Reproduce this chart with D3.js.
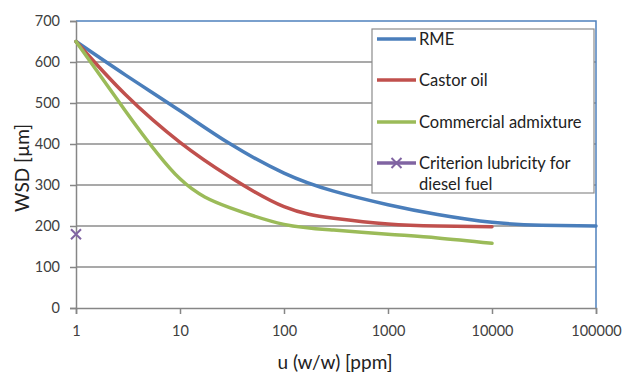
<!DOCTYPE html>
<html><head><meta charset="utf-8">
<script src="https://cdn.jsdelivr.net/npm/d3@7"></script>
<style>html,body{margin:0;padding:0;background:#fff;}svg{display:block;}</style>
</head><body>
<svg id="c" width="624" height="372"></svg>
<script>
const xTicks = [1, 10, 100, 1000, 10000, 100000];
const yTicks = [0, 100, 200, 300, 400, 500, 600, 700];
const rmeX = [1, 3, 10, 30, 100, 300, 1000, 3000, 10000, 30000, 100000];
const rmeY = [650, 568, 481, 401, 329, 285, 252, 228, 209, 202, 200];
const castorX = [1, 3, 10, 30, 100, 300, 1000, 3000, 10000];
const castorY = [650, 520, 404, 320, 247, 219, 205, 200, 198];
const commX = [1, 3, 10, 30, 100, 300, 1000, 3000, 10000];
const commY = [650, 480, 315, 245, 204, 190, 180, 171, 158];
const critX = [1];
const critY = [180];
const seriesNames = ["RME", "Castor oil", "Commercial admixture", "Criterion lubricity for diesel fuel"];
const colors = ["#4a7ebb", "#c0504d", "#9bbb59", "#8064a2"];

const svg = d3.select("#c");
const L = 76, R = 596, T = 21, B = 308;
const x = d3.scaleLog().domain([1, 100000]).range([L, R]);
const y = d3.scaleLinear().domain([0, 700]).range([B, T]);
const font = "Lato, 'Liberation Sans', sans-serif";

// gridlines
svg.append("g").selectAll("line").data(yTicks.filter(d => d > 0 && d < 700)).join("line")
  .attr("x1", L).attr("x2", R).attr("y1", d => y(d)).attr("y2", d => y(d))
  .attr("stroke", "#8c8c8c").attr("stroke-width", 1.3);

// plot border top/right
svg.append("path").attr("d", `M${L},${y(700)}H${R}V${B}`).attr("fill", "none")
  .attr("stroke", "#4f81bd").attr("stroke-width", 1.5);

// axes
const yAxis = d3.axisLeft(y).tickValues(yTicks).tickSize(6).tickPadding(10);
const gy = svg.append("g").attr("transform", `translate(${L},0)`).call(yAxis);
gy.select(".domain").attr("stroke", "#868686").attr("stroke-width", 1.5);
gy.selectAll(".tick line").attr("stroke", "#868686").attr("stroke-width", 1.5);
gy.selectAll(".tick text").attr("font-family", font).attr("font-size", 14.5).attr("fill", "#404040");

const xAxis = d3.axisBottom(x).tickValues(xTicks).tickFormat(d3.format("d")).tickSize(6).tickPadding(12);
const gx = svg.append("g").attr("transform", `translate(0,${B})`).call(xAxis);
gx.select(".domain").attr("stroke", "#868686").attr("stroke-width", 1.5);
gx.selectAll(".tick line").attr("stroke", "#868686").attr("stroke-width", 1.5);
gx.selectAll(".tick text").attr("font-family", font).attr("font-size", 14.5).attr("fill", "#404040");

// axis titles
svg.append("text").attr("transform", `translate(29,168) rotate(-90)`)
  .attr("text-anchor", "middle").attr("font-family", font).attr("font-size", 19).attr("fill", "#222")
  .text("WSD [µm]");
svg.append("text").attr("x", 335).attr("y", 369).attr("text-anchor", "middle")
  .attr("font-family", font).attr("font-size", 19).attr("fill", "#222").text("u (w/w) [ppm]");

// lines
const line = d3.line().x(d => x(d[0])).y(d => y(d[1])).curve(d3.curveNatural);
const series = [[rmeX, rmeY], [castorX, castorY], [commX, commY]];
series.forEach((s, i) => {
  const pts = s[0].map((v, j) => [v, s[1][j]]);
  svg.append("path").datum(pts).attr("d", line).attr("fill", "none")
    .attr("stroke", colors[i]).attr("stroke-width", 3.5).attr("stroke-linecap", "round");
});

// criterion marker
function cross(g, cx, cy, r) {
  g.append("path").attr("d", `M${cx - r},${cy - r}L${cx + r},${cy + r}M${cx - r},${cy + r}L${cx + r},${cy - r}`)
    .attr("stroke", colors[3]).attr("stroke-width", 2).attr("fill", "none");
}
critX.forEach((v, j) => cross(svg, x(v), y(critY[j]), 5));

// legend
const lg = svg.append("g");
lg.append("rect").attr("x", 372).attr("y", 29).attr("width", 222).attr("height", 164)
  .attr("fill", "#fff").attr("stroke", "#8c8c8c").attr("stroke-width", 1.2);
const ly = [39, 80, 122, 163];
seriesNames.forEach((n, i) => {
  lg.append("line").attr("x1", 377).attr("x2", 416).attr("y1", ly[i]).attr("y2", ly[i])
    .attr("stroke", colors[i]).attr("stroke-width", 3.5);
  if (i === 3) cross(lg, 396.5, ly[i], 5);
  const t = lg.append("text").attr("x", 419).attr("y", ly[i] + 6)
    .attr("font-family", font).attr("font-size", 16.5).attr("fill", "#222");
  if (i === 3) {
    t.append("tspan").attr("x", 419).text("Criterion lubricity for");
    t.append("tspan").attr("x", 419).attr("dy", 21).text("diesel fuel");
  } else t.text(n);
});
</script>
</body></html>
